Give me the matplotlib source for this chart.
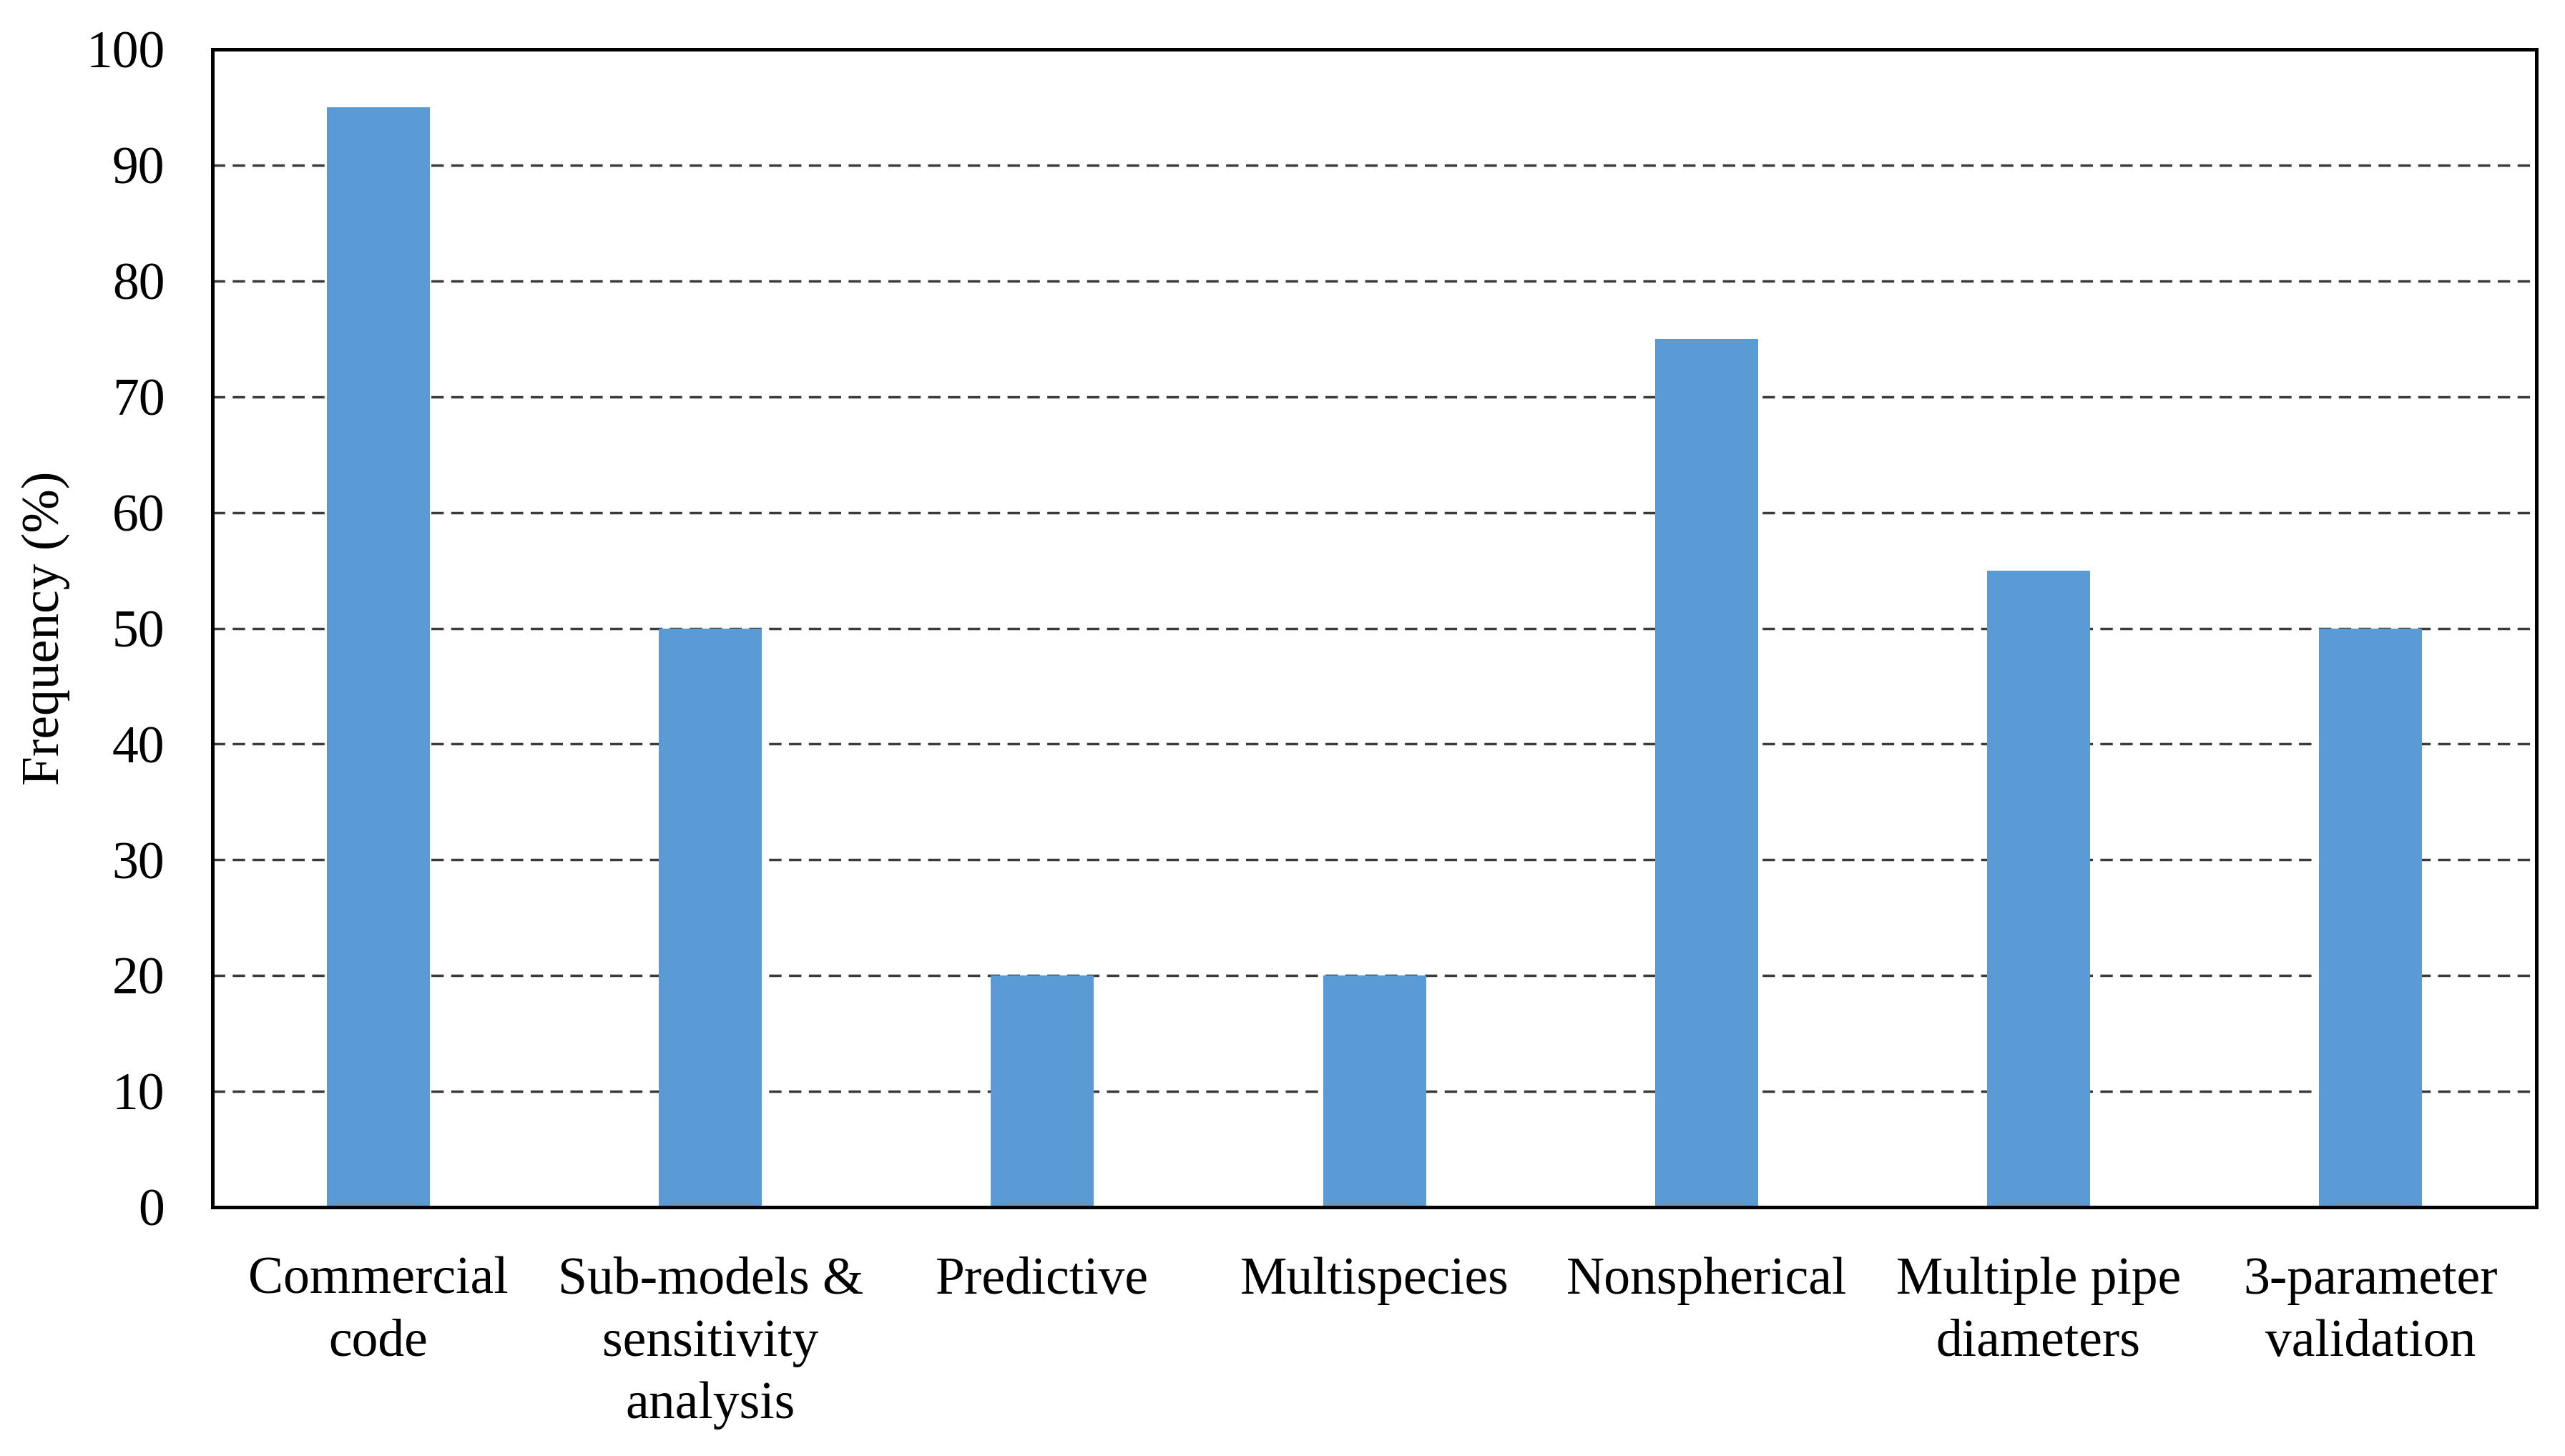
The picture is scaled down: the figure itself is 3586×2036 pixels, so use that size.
import numpy as np
import matplotlib
matplotlib.use('Agg')
import matplotlib.pyplot as plt

categories = ['Commercial\ncode', 'Sub-models &\nsensitivity\nanalysis', 'Predictive',
              'Multispecies', 'Nonspherical', 'Multiple pipe\ndiameters',
              '3-parameter\nvalidation']
frequency = [95, 50, 20, 20, 75, 55, 50]
y_ticks = np.arange(0, 101, 10)

plt.rcParams['font.family'] = ['Liberation Serif', 'DejaVu Serif']

fig = plt.figure(figsize=(35.87, 20.36), dpi=100)
ax = fig.add_axes([0.0828, 0.171, 0.9058, 0.795])

x = np.arange(len(categories))
ax.bar(x, frequency, width=0.31, color='#5B9BD5', zorder=2)

ax.set_xlim(-0.5, len(categories) - 0.5)
ax.set_ylim(0, 100)
ax.set_yticks(y_ticks)
ax.set_xticks(x)
ax.set_xticklabels(categories, linespacing=1.38)

ax.set_axisbelow(True)
ax.yaxis.grid(True, color='#3a3a3a', linewidth=2.5, linestyle=(0, (5, 3)))
ax.xaxis.grid(False)

for s in ax.spines.values():
    s.set_linewidth(3.6)
    s.set_color('black')

ax.tick_params(axis='both', length=0, labelsize=53)
ax.tick_params(axis='y', pad=48)
ax.tick_params(axis='x', pad=50)

ax.set_ylabel('Frequency (%)', fontsize=53, labelpad=16)

fig.savefig('out.png', dpi=100)
